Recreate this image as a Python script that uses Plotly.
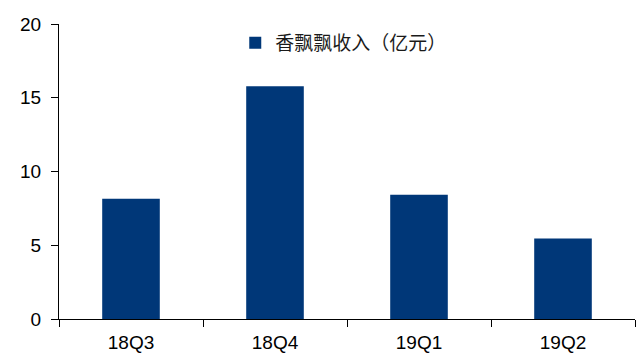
import plotly.graph_objects as go

categories = ["18Q3", "18Q4", "19Q1", "19Q2"]
revenue = [8.15, 15.78, 8.42, 5.45]
series_name = "香飘飘收入（亿元）"

fig = go.Figure()
fig.add_trace(go.Bar(
    x=categories, y=revenue, name=series_name,
    marker=dict(color="#003778", line=dict(width=0)),
    width=0.4,
))

fig.update_layout(
    width=636, height=354,
    margin=dict(l=59, r=1, t=24, b=33),
    plot_bgcolor="white", paper_bgcolor="white",
    showlegend=True,
    legend=dict(x=0.306, y=1.0, xanchor="left", yanchor="top",
                font=dict(family="Noto Sans CJK SC", size=19, color="#1a1a1a"),
                bgcolor="rgba(0,0,0,0)", itemwidth=30),
    font=dict(family="Liberation Sans, Arial", size=19, color="black"),
)
fig.update_yaxes(range=[0, 20], tickvals=[0, 5, 10, 15, 20],
                 showline=True, linecolor="black", linewidth=1,
                 ticks="outside", ticklen=7, tickcolor="black",
                 ticklabelstandoff=6,
                 showgrid=False, zeroline=False)
fig.update_xaxes(showline=True, linecolor="black", linewidth=1,
                 ticks="outside", ticklen=7, tickcolor="black",
                 ticklabelstandoff=6,
                 tickson="boundaries", showgrid=False)

fig.write_html("out.html")
